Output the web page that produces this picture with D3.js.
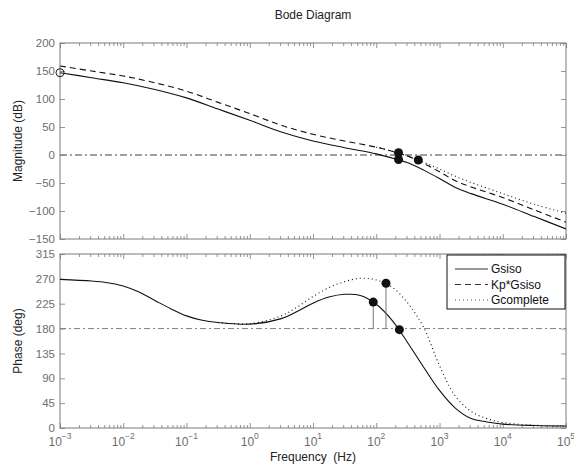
<!DOCTYPE html>
<html>
<head>
<meta charset="utf-8">
<script src="https://cdn.jsdelivr.net/npm/d3@7"></script>
<style>
  html, body { margin: 0; padding: 0; background: #fff; }
  svg { display: block; font-family: "Liberation Sans", Arial, Helvetica, sans-serif; }
</style>
</head>
<body>
<svg id="chart" width="574" height="472"></svg>
<script>
// ---- Data (frequency in Hz) ----
const magFreq = [0.001, 0.00316, 0.01, 0.0316, 0.1, 0.316, 1, 3.16, 10, 31.6, 100, 200, 316, 562, 1000, 1778, 3162, 10000, 31623, 100000];
const gsisoMag   = [147, 138, 129, 117, 102, 82, 62, 41, 25, 13, 2, -7, -14, -27, -42, -58, -69, -88, -110, -132];
const kpGsisoMag = [159, 150, 141, 129, 114, 94, 74, 53, 37, 25, 14, 5, -2, -15, -30, -46, -57, -76, -98, -120];

const gcompMagFreq = [100, 200, 316, 562, 1000, 1778, 3162, 10000, 31623, 100000];
const gcompMag     = [14, 5, -2, -13, -25, -38, -49, -69, -88, -104];

const phFreq = [0.001, 0.00316, 0.00562, 0.01, 0.0178, 0.0316, 0.0562, 0.1, 0.178, 0.316, 1, 3.16, 5.62, 10, 17.8, 31.6, 56.2, 100, 178, 316, 562, 1000, 1778, 3162, 5623, 10000, 31623, 100000];
const gsisoPh = [269, 266, 263, 257, 246, 231, 216, 203, 195, 191, 188, 198, 211, 226, 237, 242, 240, 224, 195, 154, 110, 68, 36, 17, 11, 7, 4.5, 3.5];

const gcompPhFreq = [0.316, 1, 3.16, 5.62, 10, 17.8, 31.6, 56.2, 100, 178, 316, 562, 1000, 1778, 3162, 5623, 10000, 31623, 100000];
const gcompPh     = [191, 189, 203, 219, 238, 254, 265, 271, 268, 255, 226, 182, 113, 58, 30, 17, 10, 5, 3.6];

// Stability-margin markers
const magMarkers = [{ f: 225, v: 4 }, { f: 225, v: -8 }, { f: 462, v: -9 }];
const magStems   = [{ f: 225, from: 0, to: -8 }];
const phMarkers  = [{ f: 89.7, v: 228 }, { f: 142.6, v: 262 }, { f: 232, v: 178 }];
const phStems    = [{ f: 89.7, from: 180, to: 228 }, { f: 142.6, from: 180, to: 262 }];
const startMarker = { f: 0.001, v: 147 };

const magTicks = [-150, -100, -50, 0, 50, 100, 150, 200];
const phTicks  = [0, 45, 90, 135, 180, 225, 270, 315];
const decades  = [-3, -2, -1, 0, 1, 2, 3, 4, 5];

const legendItems = [
  { name: "Gsiso", dash: null },
  { name: "Kp*Gsiso", dash: "6,4" },
  { name: "Gcomplete", dash: "1,3" }
];

// ---- Layout ----
const L = 60, R = 566;
const magTop = 43, magBot = 239;
const phTop = 254, phBot = 428;
const axisGrey = "#7a7a7a";
const labelGrey = "#6e6e6e";

const svg = d3.select("#chart");

const x = d3.scaleLog().domain([1e-3, 1e5]).range([L, R]);
const yMag = d3.scaleLinear().domain([-150, 200]).range([magBot, magTop]);
const yPh = d3.scaleLinear().domain([0, 315]).range([phBot, phTop]);

// log-axis tick positions
const majorVals = decades.map(e => Math.pow(10, e));
const minorVals = [];
for (let e = -3; e < 5; e++) for (let k = 2; k <= 9; k++) minorVals.push(k * Math.pow(10, e));

function drawFrame(yScale, top, bot, yTickVals) {
  const g = svg.append("g");
  // ticks along top (pointing down) and bottom (pointing up)
  const addX = (axisFn, yPos, vals, size) => {
    const a = g.append("g").attr("transform", `translate(0,${yPos})`)
      .call(axisFn(x).tickValues(vals).tickSize(size).tickFormat(""));
    a.select(".domain").remove();
    a.selectAll("line").attr("stroke", axisGrey).attr("stroke-width", 0.8);
  };
  addX(d3.axisBottom, top, majorVals, 5);
  addX(d3.axisBottom, top, minorVals, 3);
  addX(d3.axisTop, bot, majorVals, 5);
  addX(d3.axisTop, bot, minorVals, 3);
  // ticks along left (pointing right) and right (pointing left)
  const addY = (axisFn, xPos) => {
    const a = g.append("g").attr("transform", `translate(${xPos},0)`)
      .call(axisFn(yScale).tickValues(yTickVals).tickSize(5).tickFormat(""));
    a.select(".domain").remove();
    a.selectAll("line").attr("stroke", axisGrey).attr("stroke-width", 0.8);
  };
  addY(d3.axisRight, L);
  addY(d3.axisLeft, R);
  // y tick labels
  g.selectAll("text.ylab").data(yTickVals).enter().append("text")
    .attr("x", L - 5).attr("y", d => yScale(d)).attr("dy", "0.36em")
    .attr("text-anchor", "end").attr("font-size", 11.5).attr("fill", labelGrey)
    .text(d => d < 0 ? "\u2212" + Math.abs(d) : d);
  // box
  g.append("rect").attr("x", L).attr("y", top).attr("width", R - L).attr("height", bot - top)
    .attr("fill", "none").attr("stroke", axisGrey).attr("stroke-width", 1);
}

drawFrame(yMag, magTop, magBot, magTicks);
drawFrame(yPh, phTop, phBot, phTicks);

// x tick labels (powers of ten) under the phase panel
const xl = svg.append("g");
decades.forEach(e => {
  const t = xl.append("text").attr("x", x(Math.pow(10, e))).attr("y", 446)
    .attr("text-anchor", "middle").attr("font-size", 12).attr("fill", labelGrey);
  t.append("tspan").text("10");
  t.append("tspan").attr("dy", -7).attr("font-size", 8.5).text(e < 0 ? "\u2212" + Math.abs(e) : String(e));
});

// reference lines
svg.append("line").attr("x1", L).attr("x2", R).attr("y1", yMag(0)).attr("y2", yMag(0))
  .attr("stroke", "#808080").attr("stroke-width", 1.4).attr("stroke-dasharray", "7,3,2,3");
svg.append("line").attr("x1", L).attr("x2", R).attr("y1", yPh(180)).attr("y2", yPh(180))
  .attr("stroke", "#808080").attr("stroke-width", 1).attr("stroke-dasharray", "6,3,2,3");

// clip paths for the two panels
const defs = svg.append("defs");
defs.append("clipPath").attr("id", "clipMag").append("rect")
  .attr("x", L).attr("y", magTop).attr("width", R - L).attr("height", magBot - magTop);
defs.append("clipPath").attr("id", "clipPh").append("rect")
  .attr("x", L).attr("y", phTop).attr("width", R - L).attr("height", phBot - phTop);

function curve(freqs, vals, yScale, clip, dash) {
  const line = d3.line().x(d => x(d[0])).y(d => yScale(d[1])).curve(d3.curveCatmullRom.alpha(0.5));
  const p = svg.append("path").datum(d3.zip(freqs, vals))
    .attr("d", line).attr("fill", "none").attr("stroke", "#111")
    .attr("stroke-width", 1.1).attr("clip-path", `url(#${clip})`);
  if (dash) p.attr("stroke-dasharray", dash);
  return p;
}

// magnitude panel
curve(gcompMagFreq, gcompMag, yMag, "clipMag", "1,3");
curve(magFreq, kpGsisoMag, yMag, "clipMag", "6,4");
curve(magFreq, gsisoMag, yMag, "clipMag", null);

// phase panel
curve(gcompPhFreq, gcompPh, yPh, "clipPh", "1,3");
curve(phFreq, gsisoPh, yPh, "clipPh", null);

// margin stems
magStems.forEach(s => svg.append("line").attr("x1", x(s.f)).attr("x2", x(s.f))
  .attr("y1", yMag(s.from)).attr("y2", yMag(s.to)).attr("stroke", "#777").attr("stroke-width", 1));
phStems.forEach(s => svg.append("line").attr("x1", x(s.f)).attr("x2", x(s.f))
  .attr("y1", yPh(s.from)).attr("y2", yPh(s.to)).attr("stroke", "#777").attr("stroke-width", 1));

// margin markers
svg.selectAll("circle.mm").data(magMarkers).enter().append("circle")
  .attr("cx", d => x(d.f)).attr("cy", d => yMag(d.v)).attr("r", 4.5).attr("fill", "#111");
svg.selectAll("circle.pm").data(phMarkers).enter().append("circle")
  .attr("cx", d => x(d.f)).attr("cy", d => yPh(d.v)).attr("r", 4.5).attr("fill", "#111");
svg.append("circle").attr("cx", x(startMarker.f)).attr("cy", yMag(startMarker.v)).attr("r", 4)
  .attr("fill", "none").attr("stroke", "#222").attr("stroke-width", 1);

// legend
const lg = svg.append("g");
lg.append("rect").attr("x", 447).attr("y", 255).attr("width", 118).attr("height", 54)
  .attr("fill", "#fff").attr("stroke", "#111").attr("stroke-width", 1);
legendItems.forEach((d, i) => {
  const yy = 269 + i * 15.5;
  const ln = lg.append("line").attr("x1", 455).attr("x2", 488).attr("y1", yy).attr("y2", yy)
    .attr("stroke", d.dash === "1,3" ? "#555" : "#333").attr("stroke-width", 1.1);
  if (d.dash) ln.attr("stroke-dasharray", d.dash);
  lg.append("text").attr("x", 491).attr("y", yy).attr("dy", "0.36em")
    .attr("font-size", 12).attr("fill", "#111").text(d.name);
});

// titles and axis labels
svg.append("text").attr("x", (L + R) / 2).attr("y", 19).attr("text-anchor", "middle")
  .attr("font-size", 12).attr("fill", "#222").text("Bode Diagram");
svg.append("text").attr("x", (L + R) / 2).attr("y", 461).attr("text-anchor", "middle")
  .attr("font-size", 12).attr("fill", "#222").attr("xml:space", "preserve").text("Frequency  (Hz)");
svg.append("text").attr("transform", `translate(22,${(magTop + magBot) / 2}) rotate(-90)`)
  .attr("text-anchor", "middle").attr("font-size", 12).attr("fill", "#222").text("Magnitude (dB)");
svg.append("text").attr("transform", `translate(22,${(phTop + phBot) / 2}) rotate(-90)`)
  .attr("text-anchor", "middle").attr("font-size", 12).attr("fill", "#222").text("Phase (deg)");
</script>
</body>
</html>
